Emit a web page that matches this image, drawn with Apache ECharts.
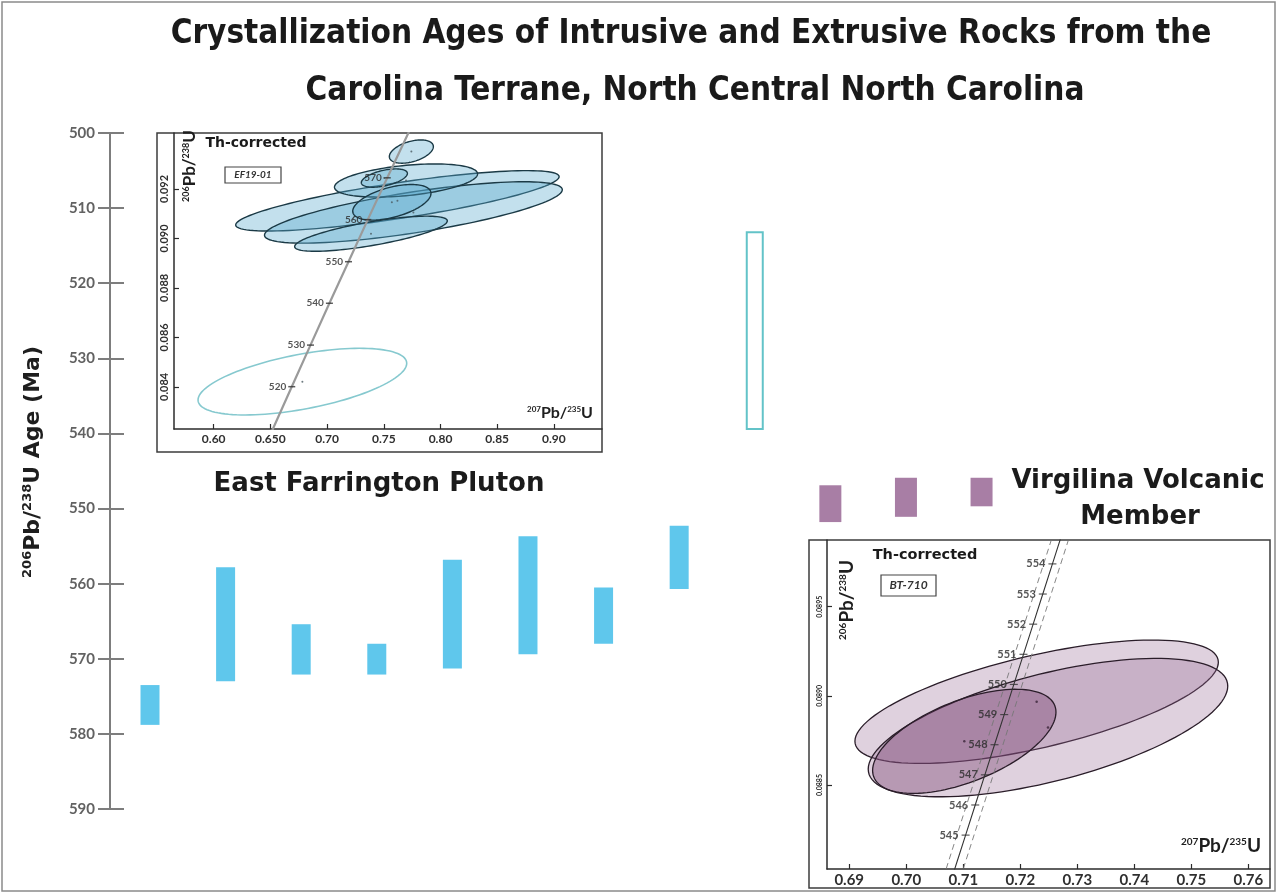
<!DOCTYPE html>
<html>
<head>
<meta charset="utf-8">
<script src="https://cdn.jsdelivr.net/npm/echarts@6/dist/echarts.min.js"></script>
<style>
html, body { margin: 0; padding: 0; background: #ffffff; }
#chart { width: 1278px; height: 894px; }
</style>
</head>
<body>
<div id="chart"></div>
<script>
// ---- Main age panel: 206Pb/238U ages (Ma), one column per sample ----
const ageTicks = [500, 510, 520, 530, 540, 550, 560, 570, 580, 590];
const plutonSlots = [0, 1, 2, 3, 4, 5, 6, 7];
const plutonAgeYoung = [573.5, 557.8, 565.4, 568.0, 556.8, 553.7, 560.5, 552.3];
const plutonAgeOld   = [578.8, 573.0, 572.1, 572.1, 571.3, 569.4, 568.0, 560.7];
const inheritedSlots = [8];
const inheritedAgeYoung = [513.2];
const inheritedAgeOld   = [539.4];
const volcanicSlots = [9, 10, 11];
const volcanicAgeYoung = [546.9, 545.9, 545.9];
const volcanicAgeOld   = [551.8, 551.1, 549.7];

// ---- EF19-01 concordia diagram (East Farrington Pluton) ----
const efXTicks  = [0.60, 0.65, 0.70, 0.75, 0.80, 0.85, 0.90];
const efXLabels = ['0.60', '0.650', '0.70', '0.75', '0.80', '0.85', '0.90'];
const efYTicks  = [0.084, 0.086, 0.088, 0.090, 0.092];
const efYLabels = ['0.084', '0.086', '0.088', '0.090', '0.092'];
const efConcordiaAge  = [500, 510, 520, 530, 540, 550, 560, 570, 580, 590];
const efConcordiaPbU7 = [0.63628, 0.65247, 0.66883, 0.68535, 0.70203, 0.71887, 0.73588, 0.75306, 0.77042, 0.78794];
const efConcordiaPbU6 = [0.08065, 0.08233, 0.08401, 0.08569, 0.08738, 0.08906, 0.09076, 0.09245, 0.09414, 0.09584];
const efMarkedAges = [520, 530, 540, 550, 560, 570];
// error ellipses: centre, half-widths along each ratio, error correlation
const efEllipseCx  = [0.7620, 0.7761, 0.7387, 0.7696, 0.7571, 0.7505, 0.7743];
const efEllipseCy  = [0.09152, 0.09105, 0.09019, 0.09234, 0.09146, 0.09244, 0.09351];
const efEllipseSx  = [0.1426, 0.1313, 0.0673, 0.0631, 0.0345, 0.0203, 0.0194];
const efEllipseSy  = [0.00122, 0.00124, 0.00071, 0.00067, 0.00072, 0.00037, 0.00047];
const efEllipseRho = [0.80, 0.74, 0.73, 0.40, 0.50, 0.50, 0.43];
const efOpenEllipse = [0.6782, 0.084214, 0.0920, 0.001347, 0.55];

// ---- BT-710 concordia diagram (Virgilina Volcanic Member) ----
const btXTicks  = [0.69, 0.70, 0.71, 0.72, 0.73, 0.74, 0.75, 0.76];
const btXLabels = ['0.69', '0.70', '0.71', '0.72', '0.73', '0.74', '0.75', '0.76'];
const btYTicks  = [0.0885, 0.0890, 0.0895];
const btYLabels = ['0.0885', '0.0890', '0.0895'];
const btConcordiaAge  = [543, 544, 545, 546, 547, 548, 549, 550, 551, 552, 553, 554, 555];
const btConcordiaPbU7 = [0.70702, 0.70871, 0.71041, 0.71210, 0.71379, 0.71548, 0.71718, 0.71887, 0.72056, 0.72226, 0.72395, 0.72564, 0.72733];
const btConcordiaPbU6 = [0.087881, 0.088050, 0.088219, 0.088388, 0.088557, 0.088726, 0.088895, 0.089064, 0.089233, 0.089402, 0.089571, 0.089740, 0.089909];
const btMarkedAges = [545, 546, 547, 548, 549, 550, 551, 552, 553, 554];
const btEnvelopeLow  = [[0.7070, 0.08803], [0.7254, 0.08987]];
const btEnvelopeHigh = [[0.7100, 0.08803], [0.7284, 0.08987]];
const btEllipseCx  = [0.72287, 0.72486, 0.71018];
const btEllipseCy  = [0.088967, 0.088822, 0.088745];
const btEllipseSx  = [0.03187, 0.03153, 0.01608];
const btEllipseSy  = [0.000346, 0.000388, 0.000292];
const btEllipseRho = [0.64, 0.60, 0.56];

// ---------------------------------------------------------------
const SANS = '"Lato", "Noto Sans", sans-serif';
const WIDE = '"DejaVu Sans", "Noto Sans", sans-serif';
const NARROW = '"Liberation Sans Narrow", "DejaVu Sans Condensed", sans-serif';
const AXIS_GREY = '#7d7d7d';

const zip = (...cols) => cols[0].map((_, i) => cols.map(c => c[i]));
const tickText = (values, labels) => v => {
  const i = values.findIndex(t => Math.abs(t - v) < 1e-9);
  return i < 0 ? '' : labels[i];
};

function rangeBar(width, style) {
  return function (params, api) {
    const a = api.coord([api.value(0), api.value(1)]);
    const b = api.coord([api.value(0), api.value(2)]);
    return {
      type: 'rect',
      shape: { x: a[0] - width / 2, y: Math.min(a[1], b[1]), width: width, height: Math.abs(b[1] - a[1]) },
      style: style
    };
  };
}

function ellipse(style) {
  return function (params, api) {
    const cx = api.value(0), cy = api.value(1), sx = api.value(2), sy = api.value(3), r = api.value(4);
    const k = Math.sqrt(1 - r * r);
    const pts = [];
    for (let i = 0; i < 120; i++) {
      const t = i / 120 * Math.PI * 2;
      pts.push(api.coord([cx + sx * Math.cos(t), cy + sy * (r * Math.cos(t) + k * Math.sin(t))]));
    }
    return { type: 'polygon', shape: { points: pts }, style: style };
  };
}

function insetXAxis(grid, min, max, ticks, labels, fontSize) {
  return {
    type: 'value', gridIndex: grid, min: min, max: max,
    axisLine: { show: true, onZero: false, lineStyle: { color: '#2b2b2b', width: 1.5 } },
    axisTick: { show: true, inside: true, length: 5, customValues: ticks, lineStyle: { color: '#2b2b2b', width: 1.2 } },
    axisLabel: { show: true, customValues: ticks, formatter: tickText(ticks, labels), fontSize: fontSize,
                 fontWeight: 'bold', color: '#2f2f2f', fontFamily: SANS, margin: 4 },
    splitLine: { show: false }
  };
}
function insetYAxis(grid, min, max, ticks, labels, fontSize) {
  return {
    type: 'value', gridIndex: grid, min: min, max: max,
    axisLine: { show: true, onZero: false, lineStyle: { color: '#2b2b2b', width: 1.5 } },
    axisTick: { show: true, inside: true, length: 5, customValues: ticks, lineStyle: { color: '#2b2b2b', width: 1.2 } },
    axisLabel: { show: true, customValues: ticks, formatter: tickText(ticks, labels), rotate: 90, fontSize: fontSize,
                 fontWeight: 'bold', color: '#2f2f2f', fontFamily: SANS, margin: 4 },
    splitLine: { show: false }
  };
}

function ratioTitle(a, b, x, y, big, small, rotated) {
  return {
    type: 'text', x: x, y: y, rotation: rotated ? Math.PI / 2 : 0, z: 100,
    style: {
      text: '{s|' + a + '}{b|Pb/}{s|' + b + '}{b|U}',
      align: 'center', verticalAlign: 'middle',
      rich: {
        s: { fontSize: small, fontWeight: 'bold', fontFamily: SANS, fill: '#1e1e1e', verticalAlign: 'top', lineHeight: big },
        b: { fontSize: big, fontWeight: 'bold', fontFamily: SANS, fill: '#1e1e1e', lineHeight: big }
      }
    }
  };
}

function label(text, x, y, size, opts) {
  return {
    type: 'text', x: x, y: y, z: 100,
    style: Object.assign({ text: text, fontSize: size, fontWeight: 'bold', fontFamily: SANS, fill: '#1b1b1b',
                           align: 'center', verticalAlign: 'middle' }, opts || {})
  };
}

const ageAxisBase = { type: 'value', inverse: true, min: 500, max: 590, interval: 10, position: 'left' };

const chart = echarts.init(document.getElementById('chart'), null, { renderer: 'canvas' });

const option = {
  animation: false,
  backgroundColor: '#ffffff',
  textStyle: { fontFamily: SANS },
  grid: [
    // main panel
    { left: 124, top: 133, width: 1042, height: 676, containLabel: false, outerBoundsMode: 'none' },
    // inset EF19-01
    { left: 174, top: 133, width: 428, height: 296, containLabel: false, outerBoundsMode: 'none' },
    // inset BT-710
    { left: 827, top: 540, width: 443, height: 329, containLabel: false, outerBoundsMode: 'none' },
    // strip holding the age tick marks, crossing the axis line
    { left: 98, top: 133, width: 26, height: 676, containLabel: false, outerBoundsMode: 'none' },
    // strip holding the vertical age axis line
    { left: 110, top: 133, width: 14, height: 676, containLabel: false, outerBoundsMode: 'none' }
  ],
  xAxis: [
    { type: 'value', gridIndex: 0, min: -0.344, max: 13.44, show: false },
    insetXAxis(1, 0.565, 0.9424, efXTicks, efXLabels, 12),
    insetXAxis(2, 0.6861, 0.7638, btXTicks, btXLabels, 15),
    { type: 'value', gridIndex: 3, min: 0, max: 1, show: false },
    { type: 'value', gridIndex: 4, min: 0, max: 1, show: false }
  ],
  yAxis: [
    Object.assign({}, ageAxisBase, {
      gridIndex: 0,
      axisLine: { show: false }, axisTick: { show: false }, splitLine: { show: false },
      axisLabel: { show: true, fontSize: 15, fontWeight: 'bold', color: '#626262', fontFamily: SANS, margin: 29,
                   formatter: tickText(ageTicks, ageTicks.map(String)) }
    }),
    insetYAxis(1, 0.0823, 0.09426, efYTicks, efYLabels, 11),
    insetYAxis(2, 0.088029, 0.089874, btYTicks, btYLabels, 7),
    Object.assign({}, ageAxisBase, {
      gridIndex: 3,
      axisLine: { show: false }, axisTick: { show: false }, axisLabel: { show: false },
      splitLine: { show: true, showMinLine: true, showMaxLine: true, lineStyle: { color: AXIS_GREY, width: 2 } }
    }),
    Object.assign({}, ageAxisBase, {
      gridIndex: 4,
      axisLine: { show: true, onZero: false, lineStyle: { color: AXIS_GREY, width: 2 } },
      axisTick: { show: false }, axisLabel: { show: false }, splitLine: { show: false }
    })
  ],
  series: [
    // main panel range bars
    { type: 'custom', xAxisIndex: 0, yAxisIndex: 0, clip: false,
      renderItem: rangeBar(19, { fill: '#5fc7ec' }),
      encode: { x: 0, y: [1, 2] },
      data: zip(plutonSlots, plutonAgeYoung, plutonAgeOld) },
    { type: 'custom', xAxisIndex: 0, yAxisIndex: 0, clip: false,
      renderItem: rangeBar(16, { fill: 'none', stroke: '#63c3c8', lineWidth: 2 }),
      encode: { x: 0, y: [1, 2] },
      data: zip(inheritedSlots, inheritedAgeYoung, inheritedAgeOld) },
    { type: 'custom', xAxisIndex: 0, yAxisIndex: 0, clip: false,
      renderItem: rangeBar(22, { fill: '#a87ea5' }),
      encode: { x: 0, y: [1, 2] },
      data: zip(volcanicSlots, volcanicAgeYoung, volcanicAgeOld) },

    // EF19-01 ellipses
    { type: 'custom', xAxisIndex: 1, yAxisIndex: 1, clip: true, z: 3,
      renderItem: ellipse({ fill: 'rgba(88,168,204,0.36)', stroke: '#1b3a46', lineWidth: 1.4 }),
      encode: { x: 0, y: 1 },
      data: zip(efEllipseCx, efEllipseCy, efEllipseSx, efEllipseSy, efEllipseRho) },
    { type: 'custom', xAxisIndex: 1, yAxisIndex: 1, clip: true, z: 3,
      renderItem: ellipse({ fill: 'none', stroke: '#86c9cf', lineWidth: 1.6 }),
      encode: { x: 0, y: 1 },
      data: [efOpenEllipse] },
    { type: 'line', xAxisIndex: 1, yAxisIndex: 1, clip: true, z: 4, symbol: 'none',
      lineStyle: { color: '#9a9a9a', width: 2.2 },
      data: zip(efConcordiaPbU7, efConcordiaPbU6) },
    { type: 'scatter', xAxisIndex: 1, yAxisIndex: 1, z: 5, symbol: 'rect', symbolSize: [7, 1.5],
      itemStyle: { color: '#333333' },
      label: { show: true, position: 'left', distance: 2, fontSize: 10, fontWeight: 'bold', color: '#2a2a2a',
               fontFamily: SANS, formatter: p => p.value[2] },
      data: efMarkedAges.map(a => { const i = efConcordiaAge.indexOf(a); return [efConcordiaPbU7[i], efConcordiaPbU6[i], a]; }) },
    { type: 'scatter', xAxisIndex: 1, yAxisIndex: 1, z: 5, symbol: 'circle', symbolSize: 2,
      itemStyle: { color: '#4a5a60' },
      data: zip(efEllipseCx, efEllipseCy).concat([[efOpenEllipse[0], efOpenEllipse[1]]]) },

    // BT-710 ellipses
    { type: 'custom', xAxisIndex: 2, yAxisIndex: 2, clip: true, z: 3,
      renderItem: ellipse({ fill: 'rgba(150,104,145,0.30)', stroke: '#2a1d29', lineWidth: 1.3 }),
      encode: { x: 0, y: 1 },
      data: zip(btEllipseCx, btEllipseCy, btEllipseSx, btEllipseSy, btEllipseRho).slice(0, 2) },
    { type: 'custom', xAxisIndex: 2, yAxisIndex: 2, clip: true, z: 3,
      renderItem: ellipse({ fill: 'rgba(118,62,110,0.38)', stroke: '#2a1d29', lineWidth: 1.3 }),
      encode: { x: 0, y: 1 },
      data: zip(btEllipseCx, btEllipseCy, btEllipseSx, btEllipseSy, btEllipseRho).slice(2) },
    { type: 'line', xAxisIndex: 2, yAxisIndex: 2, clip: true, z: 4, symbol: 'none',
      lineStyle: { color: '#333333', width: 1.1 },
      data: zip(btConcordiaPbU7, btConcordiaPbU6) },
    { type: 'line', xAxisIndex: 2, yAxisIndex: 2, clip: true, z: 4, symbol: 'none',
      lineStyle: { color: '#777777', width: 0.9, type: [6, 4] },
      data: btEnvelopeLow },
    { type: 'line', xAxisIndex: 2, yAxisIndex: 2, clip: true, z: 4, symbol: 'none',
      lineStyle: { color: '#777777', width: 0.9, type: [6, 4] },
      data: btEnvelopeHigh },
    { type: 'scatter', xAxisIndex: 2, yAxisIndex: 2, z: 5, symbol: 'rect', symbolSize: [8, 1.2],
      itemStyle: { color: '#333333' },
      label: { show: true, position: 'left', distance: 3, fontSize: 11, fontWeight: 'bold', color: '#2a2a2a',
               fontFamily: SANS, formatter: p => p.value[2] },
      data: btMarkedAges.map(a => { const i = btConcordiaAge.indexOf(a); return [btConcordiaPbU7[i], btConcordiaPbU6[i], a]; }) },
    { type: 'scatter', xAxisIndex: 2, yAxisIndex: 2, z: 5, symbol: 'circle', symbolSize: 2.5,
      itemStyle: { color: '#3a2438' },
      data: zip(btEllipseCx, btEllipseCy) }
  ],
  graphic: [
    // page border
    { type: 'rect', z: 0, shape: { x: 2, y: 2, width: 1273, height: 889 },
      style: { fill: 'none', stroke: '#8a8a8a', lineWidth: 1.5 } },
    // inset frames
    { type: 'rect', z: 0, shape: { x: 157, y: 133, width: 445, height: 319 },
      style: { fill: 'none', stroke: '#3c3c3c', lineWidth: 1.5 } },
    { type: 'rect', z: 0, shape: { x: 809, y: 540, width: 461, height: 348 },
      style: { fill: 'none', stroke: '#3c3c3c', lineWidth: 1.5 } },

    // title
    label('Crystallization Ages of Intrusive and Extrusive Rocks from the', 691, 34, 33,
          { fontFamily: NARROW, fill: '#1a1a1a' }),
    label('Carolina Terrane, North Central North Carolina', 695, 91, 33,
          { fontFamily: NARROW, fill: '#1a1a1a' }),

    // main axis title
    {
      type: 'text', x: 33, y: 462, rotation: Math.PI / 2, z: 100,
      style: {
        text: '{s|206}{b|Pb/}{s|238}{b|U Age (Ma)}',
        align: 'center', verticalAlign: 'middle',
        rich: {
          s: { fontSize: 13, fontWeight: 'bold', fontFamily: WIDE, fill: '#1e1e1e', verticalAlign: 'top', lineHeight: 24 },
          b: { fontSize: 22, fontWeight: 'bold', fontFamily: WIDE, fill: '#1e1e1e', lineHeight: 24 }
        }
      }
    },

    // group labels
    label('East Farrington Pluton', 379, 484, 26, { fontFamily: WIDE }),
    label('Virgilina Volcanic', 1138, 481, 26, { fontFamily: WIDE }),
    label('Member', 1140, 517, 26, { fontFamily: WIDE }),

    // EF19-01 inset annotations
    label('Th-corrected', 256, 143, 14, { fontFamily: WIDE }),
    { type: 'rect', z: 100, shape: { x: 225, y: 167, width: 56, height: 16 },
      style: { fill: '#ffffff', stroke: '#444444', lineWidth: 1.2 } },
    label('EF19-01', 253, 175, 10, { fontStyle: 'italic', fill: '#333333' }),
    ratioTitle('206', '238', 190, 166, 17, 9, true),
    ratioTitle('207', '235', 560, 413, 16, 8, false),

    // BT-710 inset annotations
    label('Th-corrected', 925, 555, 14.5, { fontFamily: WIDE }),
    { type: 'rect', z: 100, shape: { x: 881, y: 575, width: 55, height: 21 },
      style: { fill: '#ffffff', stroke: '#444444', lineWidth: 1.2 } },
    label('BT-710', 908.5, 585.5, 12, { fontStyle: 'italic', fill: '#333333' }),
    ratioTitle('206', '238', 847, 600, 19, 10, true),
    ratioTitle('207', '235', 1221, 846, 19, 10, false)
  ]
};

chart.setOption(option);
</script>
</body>
</html>
